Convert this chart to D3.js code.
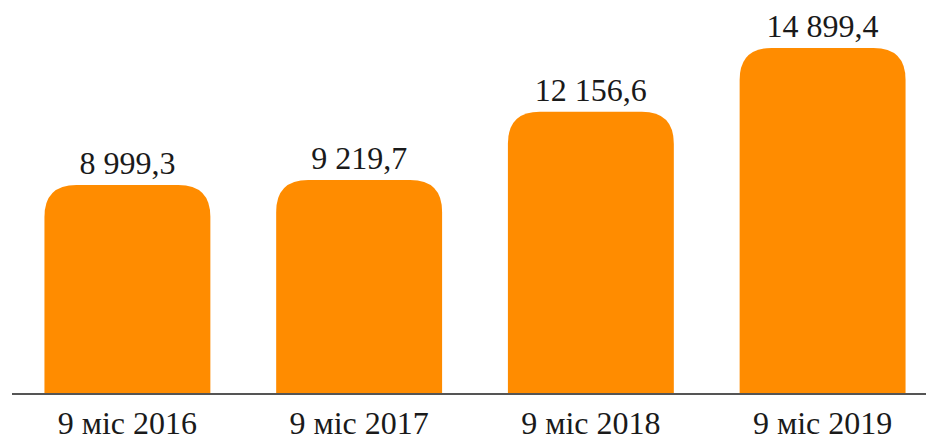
<!DOCTYPE html>
<html>
<head>
<meta charset="utf-8">
<script src="https://cdn.jsdelivr.net/npm/d3@7"></script>
<style>
  body { margin: 0; background: #fff; }
</style>
</head>
<body>
<svg width="926" height="441"></svg>
<script>
const categories = ["9 міс 2016", "9 міс 2017", "9 міс 2018", "9 міс 2019"];
const values = [8999.3, 9219.7, 12156.6, 14899.4];
const valueLabels = ["8 999,3", "9 219,7", "12 156,6", "14 899,4"];

const data = categories.map((c, i) => ({ name: c, value: values[i], label: valueLabels[i] }));

const svg = d3.select("svg");
const width = 926;
const baseY = 394;
const font = "'Liberation Serif', 'Times New Roman', Times, serif";

const x = d3
  .scaleBand()
  .domain(categories)
  .range([12, 938])
  .paddingInner(0.284)
  .paddingOuter(0.14);

const y = d3.scaleLinear().domain([0, d3.max(values)]).range([baseY, 48]);

// bar with rounded top corners only
const r = 32;
const barPath = (d) => {
  const x0 = x(d.name), x1 = x0 + x.bandwidth();
  const top = y(d.value);
  return `M${x0},${baseY} L${x0},${top + r} Q${x0},${top} ${x0 + r},${top}
    L${x1 - r},${top} Q${x1},${top} ${x1},${top + r} L${x1},${baseY} Z`;
};

svg.selectAll("path.bar")
  .data(data)
  .enter()
  .append("path")
  .attr("class", "bar")
  .attr("d", barPath)
  .attr("fill", "#ff8c00");

// baseline
svg.append("line")
  .attr("x1", 12)
  .attr("x2", width)
  .attr("y1", baseY)
  .attr("y2", baseY)
  .attr("stroke", "#555")
  .attr("stroke-width", 2);

// value labels
svg.selectAll("text.val")
  .data(data)
  .enter()
  .append("text")
  .attr("class", "val")
  .attr("x", (d) => x(d.name) + x.bandwidth() / 2)
  .attr("y", (d) => y(d.value) - 11)
  .attr("text-anchor", "middle")
  .attr("font-family", font)
  .attr("font-size", 32)
  .attr("fill", "#1a1a1a")
  .text((d) => d.label);

// category labels
svg.selectAll("text.cat")
  .data(data)
  .enter()
  .append("text")
  .attr("class", "cat")
  .attr("x", (d) => x(d.name) + x.bandwidth() / 2)
  .attr("y", 434)
  .attr("text-anchor", "middle")
  .attr("font-family", font)
  .attr("font-size", 32)
  .attr("fill", "#1a1a1a")
  .text((d) => d.name);
</script>
</body>
</html>
